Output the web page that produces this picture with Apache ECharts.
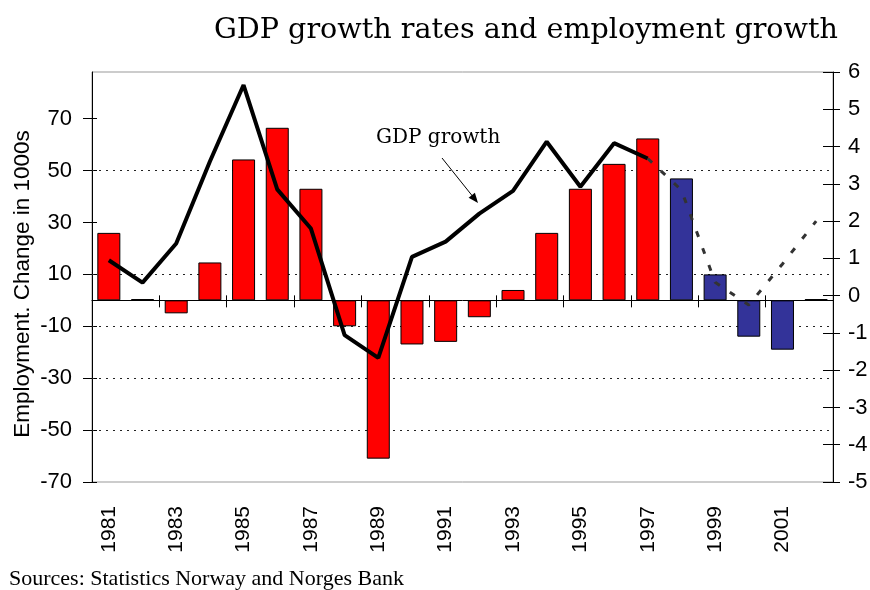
<!DOCTYPE html>
<html>
<head>
<meta charset="utf-8">
<script src="https://cdn.jsdelivr.net/npm/echarts@6/dist/echarts.min.js"></script>
<style>
  html, body { margin: 0; padding: 0; background: #fff; }
  #chart { width: 870px; height: 590px; }
</style>
</head>
<body>
<div id="chart"></div>
<script>
// years on the category axis
var years = ['1981', '1982', '1983', '1984', '1985', '1986', '1987', '1988', '1989', '1990', '1991',
             '1992', '1993', '1994', '1995', '1996', '1997', '1998', '1999', '2000', '2001', '2002'];
// employment change, 1000s (left axis)
var employment = [26, 0.5, -5, 14.6, 54.3, 66.5, 43, -10, -61, -17, -16,
                  -6.5, 4, 26, 43, 52.6, 62.4, 47, 10, -14, -19, 0.5];
// GDP growth, % (right axis) - actual figures up to 1997
var gdpGrowth = [0.95, 0.35, 1.4, 3.6, 5.65, 2.85, 1.8, -1.06, -1.67, 1.04, 1.45,
                 2.2, 2.81, 4.13, 2.92, 4.09, 3.68];
// projections from 1997 on
var gdpForecast = [3.68, 2.83, 0.36, -0.25, 0.85, 2.0];
var firstForecastYear = 1998;

var leftTicks = [-70, -50, -30, -10, 10, 30, 50, 70];
var gridValues = [50, 10, -10, -30, -50];

var myChart = echarts.init(document.getElementById('chart'));

// bars: red for outcome, blue for projections
var barData = employment.map(function (v, i) {
    var proj = +years[i] >= firstForecastYear;
    return { value: v, itemStyle: { color: proj ? '#333399' : '#ff0000' } };
});

// the dashed line starts at the last actual year
var forecastData = years.map(function (y, i) {
    var k = i - (gdpGrowth.length - 1);
    return k >= 0 ? gdpForecast[k] : '-';
});

var yLabelFont = { fontFamily: 'Liberation Sans', fontSize: 22, color: '#000' };
var xLabelFont = { fontFamily: 'Liberation Sans', fontSize: 21, color: '#000' };

option = {
    animation: false,
    title: [{
        text: 'GDP growth rates and employment growth',
        left: 209,
        top: 11,
        textStyle: { fontFamily: 'DejaVu Serif', fontWeight: 'normal', fontSize: 28.6, color: '#000' }
    }, {
        text: 'Sources: Statistics Norway and Norges Bank',
        left: 4,
        top: 563,
        textStyle: { fontFamily: 'Liberation Serif', fontWeight: 'normal', fontSize: 22, color: '#000' }
    }],
    grid: {
        left: 92, right: 37, top: 72, bottom: 108,
        show: true, borderColor: '#999', borderWidth: 1,
        outerBoundsMode: 'none'
    },
    xAxis: [{
        type: 'category',
        data: years,
        position: 'bottom',
        axisLine: { show: false, onZero: false },
        axisTick: { show: false },
        axisLabel: Object.assign({ rotate: 90, interval: 1, margin: 24 }, xLabelFont)
    }, {
        type: 'category',
        data: years,
        position: 'bottom',
        axisLine: { show: true, onZero: true, onZeroAxisIndex: 0, lineStyle: { color: '#000', width: 1 } },
        axisTick: { show: true, length: 7, lineStyle: { color: '#000', width: 1 } },
        axisLabel: { show: false }
    }, {
        type: 'category',
        data: years,
        position: 'bottom',
        axisLine: { show: false, onZero: true, onZeroAxisIndex: 0 },
        axisTick: { show: true, inside: true, length: 5, lineStyle: { color: '#000', width: 1 } },
        axisLabel: { show: false }
    }],
    yAxis: [{
        type: 'value',
        position: 'left',
        min: -70, max: 88, interval: 20,
        axisLine: { show: true, lineStyle: { color: '#000', width: 1 } },
        axisTick: { show: true, length: 9, customValues: leftTicks, lineStyle: { color: '#000' } },
        axisLabel: Object.assign({ margin: 20, customValues: leftTicks }, yLabelFont),
        splitLine: { show: false }
    }, {
        type: 'value',
        position: 'right',
        min: -5, max: 6, interval: 1,
        axisLine: { show: true, lineStyle: { color: '#000', width: 1 } },
        axisTick: { show: true, length: 7, lineStyle: { color: '#000' } },
        axisLabel: Object.assign({ margin: 15 }, yLabelFont),
        splitLine: { show: false }
    }, {
        type: 'value',
        position: 'left',
        min: -70, max: 88, interval: 20,
        axisLine: { show: false },
        axisTick: { show: true, inside: true, length: 5, customValues: leftTicks, lineStyle: { color: '#000' } },
        axisLabel: { show: false },
        splitLine: { show: false }
    }, {
        type: 'value',
        position: 'right',
        min: -5, max: 6, interval: 1,
        axisLine: { show: false },
        axisTick: { show: true, inside: true, length: 10, lineStyle: { color: '#000' } },
        axisLabel: { show: false },
        splitLine: { show: false }
    }],
    series: [{
        name: 'Employment',
        type: 'bar',
        xAxisIndex: 0,
        yAxisIndex: 0,
        barWidth: 23,
        z: 2,
        itemStyle: { borderColor: '#000', borderWidth: 1 },
        data: barData,
        markLine: {
            silent: true,
            z: 1,
            symbol: 'none',
            label: { show: false },
            lineStyle: { color: '#222', width: 1, type: [2, 5] },
            data: gridValues.map(function (v) { return { yAxis: v }; })
        }
    }, {
        name: 'GDP growth',
        type: 'line',
        xAxisIndex: 0,
        yAxisIndex: 1,
        z: 4,
        symbol: 'none',
        lineStyle: { color: '#000', width: 4 },
        data: gdpGrowth
    }, {
        name: 'GDP growth forecast',
        type: 'line',
        xAxisIndex: 0,
        yAxisIndex: 1,
        z: 4,
        symbol: 'none',
        lineStyle: { color: '#333', width: 3, type: [6, 12] },
        data: forecastData
    }],
    graphic: [{
        // left axis title
        type: 'text',
        x: 23,
        y: 284,
        rotation: Math.PI / 2,
        style: {
            text: 'Employment. Change in 1000s',
            font: '22.5px "Liberation Sans"',
            fill: '#000',
            align: 'center',
            verticalAlign: 'middle'
        }
    }, {
        type: 'text',
        left: 376,
        top: 128,
        style: { text: 'GDP growth', font: '20px "DejaVu Serif"', fill: '#000' }
    }, {
        type: 'line',
        shape: { x1: 442, y1: 158, x2: 474, y2: 198 },
        style: { stroke: '#000', lineWidth: 1 }
    }, {
        type: 'polygon',
        shape: { points: [[478, 203], [468.6, 197.7], [474.9, 192.7]] },
        style: { fill: '#000' }
    }]
};

myChart.setOption(option);
</script>
</body>
</html>
